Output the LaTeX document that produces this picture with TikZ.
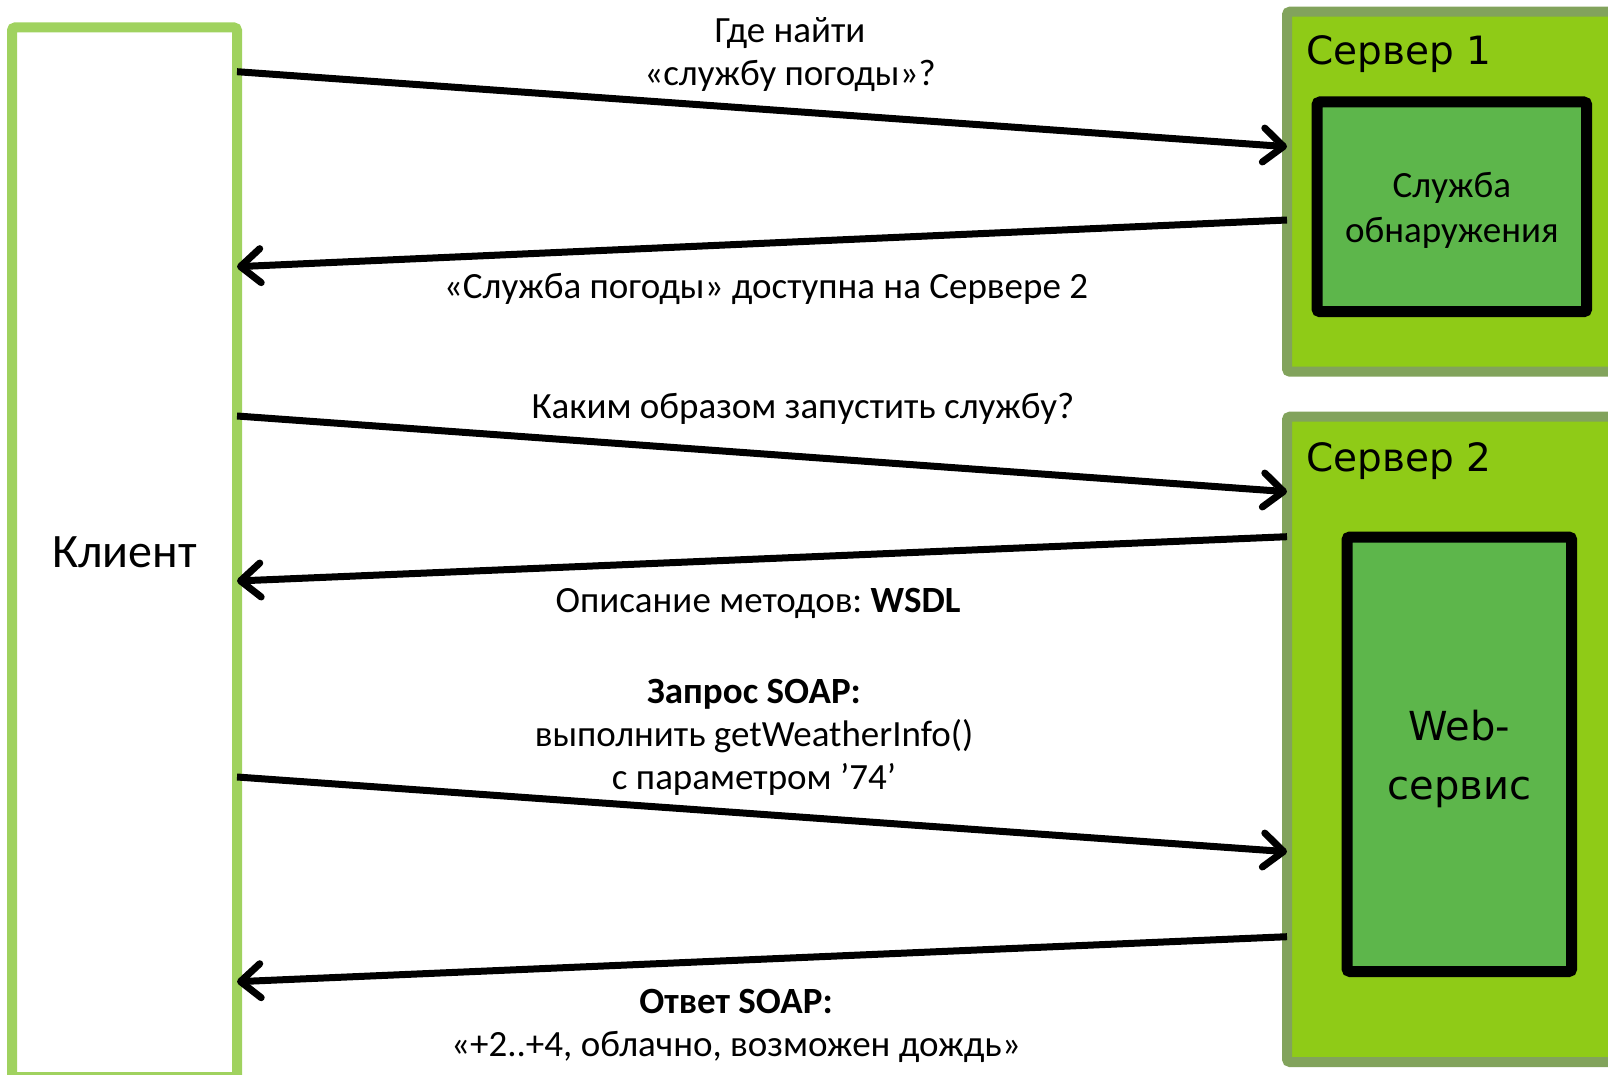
\documentclass[tikz,border=0pt]{standalone}
\usepackage{fontspec}
\setmainfont{Carlito}
\newfontfamily\srvfont{DejaVu Sans}
\usetikzlibrary{arrows.meta}
\frenchspacing

\definecolor{clientgreen}{RGB}{160,210,95}
\definecolor{srvedge}{RGB}{130,163,92}
\definecolor{srvfill}{RGB}{143,203,23}
\definecolor{svcfill}{RGB}{93,182,75}

\begin{document}
\begin{tikzpicture}[x=1pt, y=-1pt,
    msg/.style={line width=7pt, -{Straight Barb[length=20pt, width=34pt, line cap=round, line join=round]}},
    txt/.style={align=center, font=\fontsize{37}{43}\selectfont},
    server/.style={draw=srvedge, fill=srvfill, line width=10pt, rounded corners=3pt, outer sep=0pt},
    service/.style={draw=black, fill=svcfill, line width=11pt, rounded corners=3pt, outer sep=0pt}]
    \useasboundingbox (0,0) rectangle (1608,1075);

    % client and servers
    \node[draw=clientgreen, line width=10pt, rounded corners=3pt, outer sep=0pt,
          minimum width=225pt, minimum height=1049.5pt,
          font=\fontsize{48}{54}\selectfont] (client) at (124.5,552.25) {Клиент};
    \node[server, minimum width=338pt, minimum height=360pt] (server1) at (1456,191.7) {};
    \node[server, minimum width=338pt, minimum height=645.3pt] (server2) at (1456,739.35) {};
    \node[anchor=base west, font=\srvfont\fontsize{39}{45}\selectfont] (s1name) at (1303,65) {Сервер 1};
    \node[anchor=base west, font=\srvfont\fontsize{39}{45}\selectfont] (s2name) at (1303,471) {Сервер 2};
    \node[service, minimum width=269.7pt, minimum height=209.7pt,
          label={[align=center, yshift=-4pt, font=\fontsize{37}{45}\selectfont]center:Служба\\обнаружения}] (discovery) at (1451.85,206.85) {};
    \node[service, minimum width=224.7pt, minimum height=434.5pt,
          label={[align=center, yshift=-5pt, font=\srvfont\fontsize{40}{59}\selectfont]center:Web-\\сервис}] (websvc) at (1459.35,754.25) {};

    % messages
    \draw[msg] (client.east |- 0,71.7) -- (server1.west |- 0,146.7);
    \draw[msg] (server1.west |- 0,220) -- (client.east |- 0,266.7);
    \draw[msg] (client.east |- 0,416) -- (server2.west |- 0,491.7);
    \draw[msg] (server2.west |- 0,536.7) -- (client.east |- 0,581);
    \draw[msg] (client.east |- 0,777) -- (server2.west |- 0,851.7);
    \draw[msg] (server2.west |- 0,936.7) -- (client.east |- 0,981.7);

    % labels
    \node[txt] (ask1) at (790,55) {Где найти\\«службу погоды»?};
    \node[txt] (reply1) at (766,288.5) {«Служба погоды» доступна на Сервере 2};
    \node[txt] (ask2) at (803,409) {Каким образом запустить службу?};
    \node[txt] (reply2) at (758,603) {Описание методов: \textbf{WSDL}};
    \node[txt] (ask3) at (754,737) {\textbf{Запрос SOAP:}\\выполнить getWeatherInfo()\\с параметром ’74’};
    \node[txt] (reply3) at (736,1026) {\textbf{Ответ SOAP:}\\«+2..+4, облачно, возможен дождь»};
\end{tikzpicture}
\end{document}
